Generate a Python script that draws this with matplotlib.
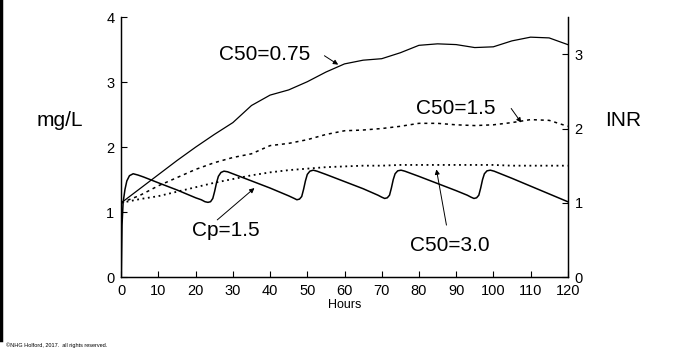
import matplotlib

matplotlib.use("Agg")
import matplotlib.pyplot as plt
from matplotlib.lines import Line2D

plt.rcParams["font.family"] = ["Liberation Sans", "DejaVu Sans"]

# INR curves (right axis)
t_inr = [0, 5, 10, 15, 20, 25, 30, 35, 40, 45, 50, 55, 60, 65, 70, 75,
         80, 85, 90, 95, 100, 105, 110, 115, 120]
inr_c50_075 = [1.0, 1.19, 1.38, 1.57, 1.75, 1.92, 2.08, 2.31, 2.45, 2.52, 2.63,
               2.76, 2.87, 2.92, 2.94, 3.02, 3.12, 3.14, 3.13, 3.09, 3.10,
               3.18, 3.23, 3.22, 3.13]
inr_c50_15 = [1.0, 1.10, 1.23, 1.34, 1.45, 1.54, 1.61, 1.66, 1.77, 1.80, 1.85,
              1.92, 1.97, 1.98, 2.0, 2.03, 2.07, 2.07, 2.05, 2.04, 2.05,
              2.08, 2.12, 2.11, 2.03]
inr_c50_30 = [1.0, 1.05, 1.09, 1.15, 1.21, 1.27, 1.32, 1.37, 1.41, 1.44, 1.46,
              1.48, 1.49, 1.50, 1.50, 1.51, 1.51, 1.51, 1.51, 1.51, 1.51,
              1.50, 1.50, 1.50, 1.50]

# warfarin concentration Cp (left axis, mg/L), one dose every 24 h
t_cp = [0, 0.2, 0.5, 1, 1.5, 2.2, 3.2, 4.5, 6, 10, 15, 20,
        21.5, 22.5, 23.3, 24, 24.6, 25.1, 25.6, 26.1, 26.8, 27.6, 28.6,
        35, 40, 45, 46.5, 47.2, 47.9, 48.5, 49.0, 49.5, 50.0, 50.7, 51.6, 52.6,
        55, 60, 65, 69, 70, 70.8, 71.5, 72.1, 72.6, 73.1, 73.6, 74.3, 75.2, 76.2,
        80, 85, 90, 93, 94, 94.8, 95.5, 96.1, 96.6, 97.1, 97.6, 98.3, 99.2, 100.2,
        105, 110, 115, 120]
cp = [0, 0.8, 1.15, 1.35, 1.48, 1.56, 1.59, 1.57, 1.54, 1.45, 1.34, 1.22,
      1.19, 1.16, 1.15, 1.16, 1.21, 1.32, 1.45, 1.55, 1.61, 1.63, 1.62,
      1.48, 1.37, 1.25, 1.21, 1.19, 1.20, 1.24, 1.35, 1.48, 1.58, 1.63, 1.645, 1.63,
      1.58, 1.47, 1.36, 1.26, 1.23, 1.21, 1.22, 1.26, 1.37, 1.50, 1.59, 1.635, 1.645, 1.63,
      1.55, 1.44, 1.33, 1.26, 1.23, 1.21, 1.22, 1.26, 1.37, 1.50, 1.59, 1.635, 1.645, 1.63,
      1.52, 1.40, 1.28, 1.16]

x_ticks = list(range(0, 121, 10))
left_ticks = [0, 1, 2, 3, 4]
right_ticks = [0, 1, 2, 3]

fig = plt.figure(figsize=(6.89, 3.49), dpi=100)
ax = fig.add_axes([0.176, 0.206, 0.648, 0.745])
ax2 = ax.twinx()

ax.plot(t_cp, cp, color="black", lw=1.1)
ax2.plot(t_inr, inr_c50_075, color="black", lw=0.9)
ax2.plot(t_inr, inr_c50_15, color="black", lw=1.1, ls=(0, (2, 2.5)))
ax2.plot(t_inr, inr_c50_30, color="black", lw=1.3, ls=(0, (1, 2)))

ax.set_xlim(0, 120)
ax.set_ylim(0, 4)
ax2.set_ylim(0, 3.5)
ax.set_xticks(x_ticks)
ax.set_yticks(left_ticks)
ax2.set_yticks(right_ticks)

for a in (ax, ax2):
    a.spines["top"].set_visible(False)
    for s in a.spines.values():
        s.set_linewidth(0.9)
ax.tick_params(axis="both", direction="in", length=4, width=0.8,
               labelsize=10.5, pad=5)
ax2.tick_params(axis="y", direction="in", length=4, width=0.8,
                labelsize=10.5, pad=5)

ax.set_xlabel("Hours", fontsize=9, labelpad=1)
fig.text(0.087, 0.655, "mg/L", fontsize=15, ha="center", va="center")
fig.text(0.905, 0.655, "INR", fontsize=15, ha="center", va="center")

# labels with arrows
arrow = dict(arrowstyle="-|>", color="black", lw=0.7, mutation_scale=7,
             shrinkA=0, shrinkB=0)
ax2.text(38.4, 2.99, "C50=0.75", fontsize=15, ha="center", va="center")
ax2.annotate("", xy=(58.3, 2.86), xytext=(54.6, 2.98), arrowprops=arrow)
ax2.text(89.8, 2.27, "C50=1.5", fontsize=15, ha="center", va="center")
ax2.annotate("", xy=(107.5, 2.08), xytext=(104.8, 2.27), arrowprops=arrow)
ax2.text(88.4, 0.42, "C50=3.0", fontsize=15, ha="center", va="center")
ax2.annotate("", xy=(84.7, 1.45), xytext=(87.4, 0.70), arrowprops=arrow)
ax.text(28.0, 0.72, "Cp=1.5", fontsize=15, ha="center", va="center")
ax.annotate("", xy=(35.8, 1.37), xytext=(25.8, 0.88), arrowprops=arrow)

# slide border on the left edge
fig.add_artist(Line2D([0.002, 0.002], [0.025, 1.0], color="black", lw=2.5,
                      transform=fig.transFigure))
fig.text(0.008, 0.004, "\u00a9NHG Holford, 2017.  all rights reserved.",
         fontsize=4, ha="left", va="bottom")

fig.savefig("out.png", dpi=100)
